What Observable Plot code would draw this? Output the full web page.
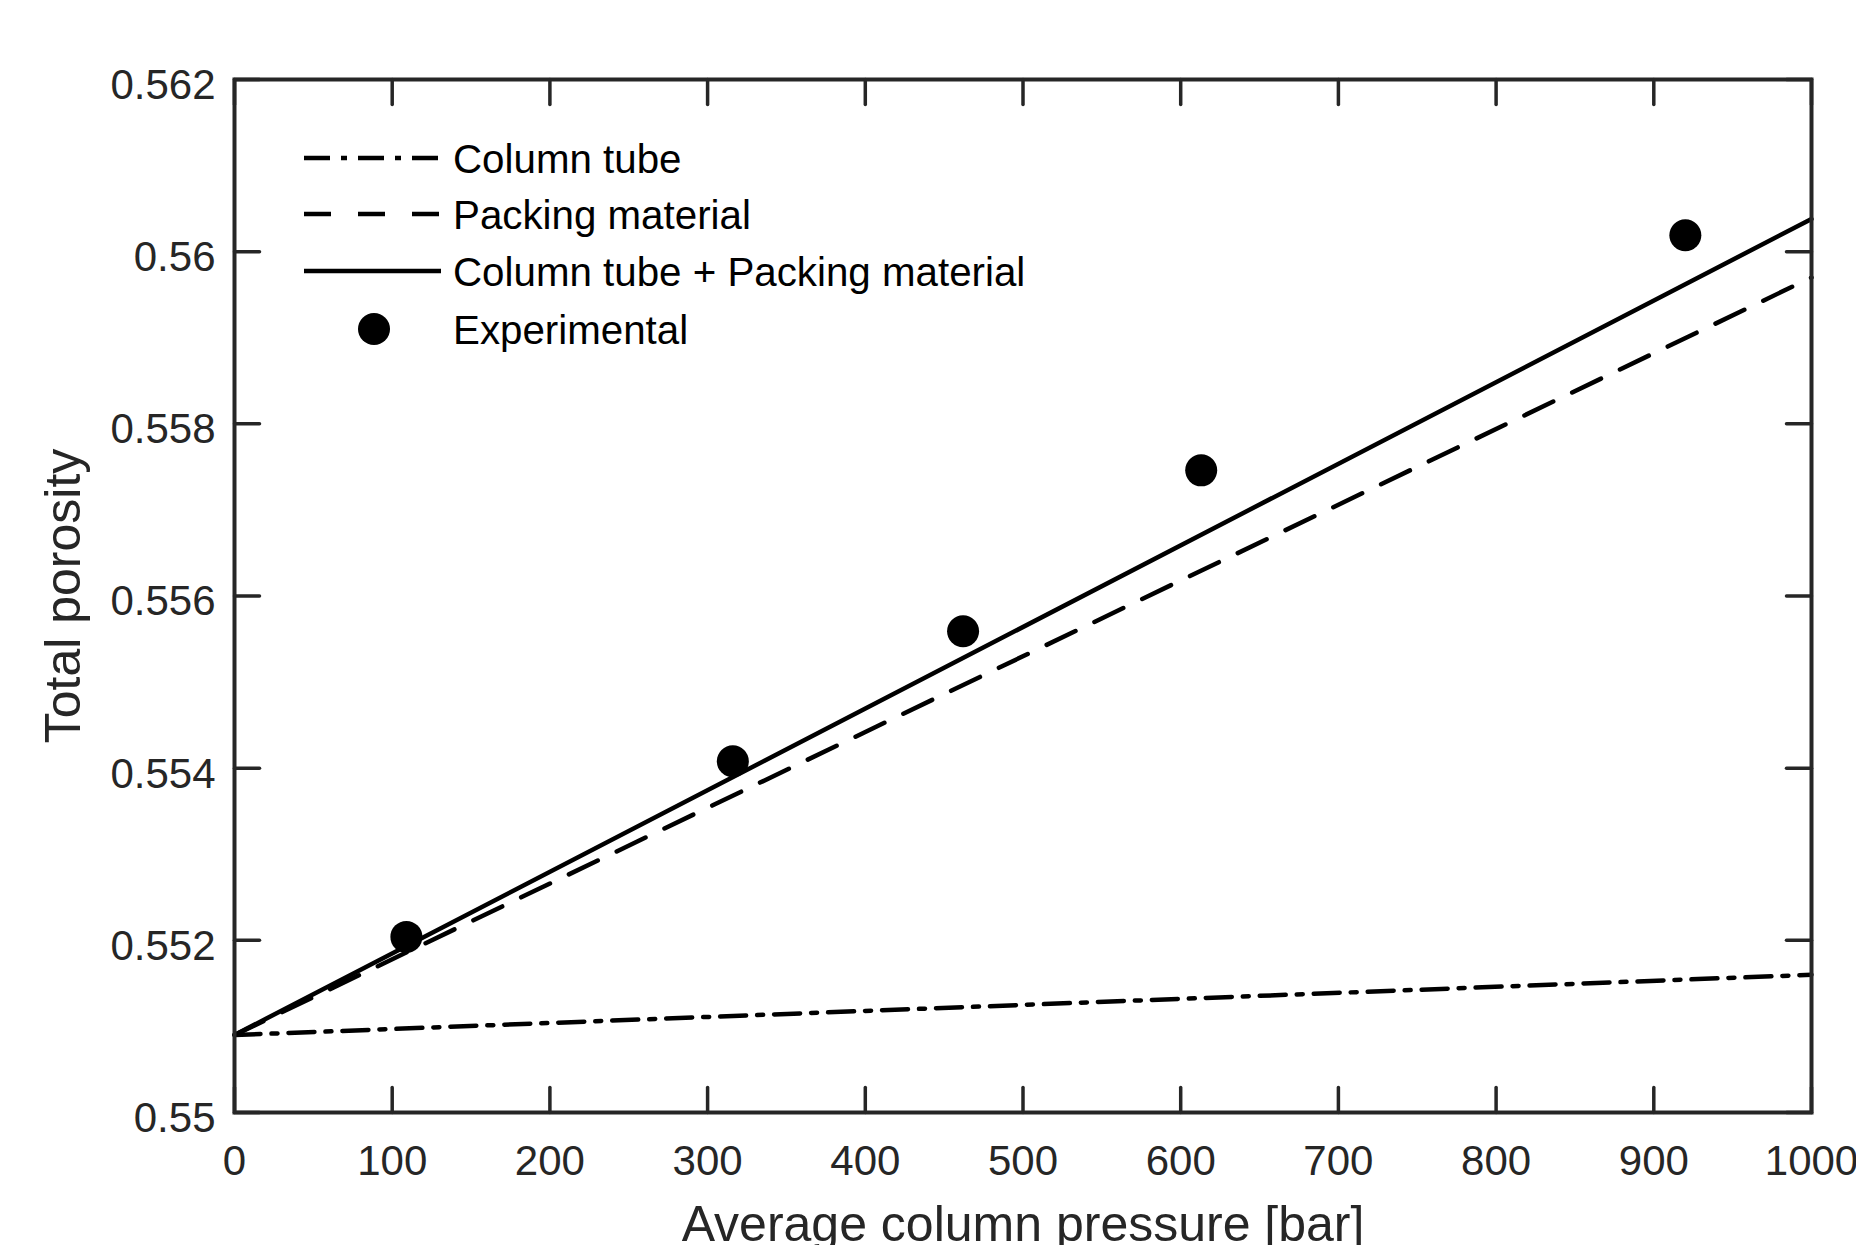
<!DOCTYPE html>
<html>
<head>
<meta charset="utf-8">
<script src="https://cdn.jsdelivr.net/npm/d3@7"></script>
<script src="https://cdn.jsdelivr.net/npm/@observablehq/plot@0.6"></script>
<style>
  html, body { margin: 0; padding: 0; background: #ffffff; }
  #chart svg { display: block; }
</style>
</head>
<body>
<div id="chart"></div>
<script>
// ---- data ----
const xTicks = [0, 100, 200, 300, 400, 500, 600, 700, 800, 900, 1000];
const yTicks = [0.55, 0.552, 0.554, 0.556, 0.558, 0.56, 0.562];
const modelPressure = [0, 1000];
const columnTube = [0.5509, 0.5516];
const packingMaterial = [0.5509, 0.5597];
const combined = [0.5509, 0.56038];
const expPressure = [109, 316, 462, 613, 920];
const expPorosity = [0.55204, 0.55408, 0.55559, 0.55746, 0.56019];
const legendLabels = ["Column tube", "Packing material", "Column tube + Packing material", "Experimental"];
const xLabel = "Average column pressure [bar]";
const yLabel = "Total porosity";

const ink = "#262626";
const font = "'Liberation Sans', Arial, Helvetica, sans-serif";

const tubeData = modelPressure.map((p, i) => ({p, v: columnTube[i]}));
const packData = modelPressure.map((p, i) => ({p, v: packingMaterial[i]}));
const combData = modelPressure.map((p, i) => ({p, v: combined[i]}));
const expData = expPressure.map((p, i) => ({p, v: expPorosity[i]}));

const tickShape = {draw(ctx, l) { ctx.moveTo(0, 0); ctx.lineTo(0, -l); }};
const tickLen = 25;
const tickStyle = {stroke: ink, strokeWidth: 3.5, length: tickLen, anchor: "start", shape: tickShape};

const chart = Plot.plot({
  width: 1856,
  height: 1245,
  marginLeft: 234,
  marginRight: 45,
  marginTop: 79,
  marginBottom: 133,
  style: {fontFamily: font, color: ink, background: "#ffffff", overflow: "visible"},
  x: {domain: [0, 1000]},
  y: {domain: [0.55, 0.562]},
  marks: [
    // model lines
    Plot.line(tubeData, {x: "p", y: "v", stroke: "#000", strokeWidth: 4.5, strokeDasharray: "26,11,6,11"}),
    Plot.line(packData, {x: "p", y: "v", stroke: "#000", strokeWidth: 4.5, strokeDasharray: "32,21"}),
    Plot.line(combData, {x: "p", y: "v", stroke: "#000", strokeWidth: 4.5}),
    Plot.dot(expData, {x: "p", y: "v", r: 16, fill: "#000", stroke: "none"}),
    // inward ticks on all four sides
    Plot.vector(xTicks, {x: d => d, frameAnchor: "bottom", rotate: 0, ...tickStyle}),
    Plot.vector(xTicks, {x: d => d, frameAnchor: "top", rotate: 180, ...tickStyle}),
    Plot.vector(yTicks, {y: d => d, frameAnchor: "left", rotate: 90, ...tickStyle}),
    Plot.vector(yTicks, {y: d => d, frameAnchor: "right", rotate: -90, ...tickStyle}),
    Plot.frame({stroke: ink, strokeWidth: 4}),
    // tick labels
    Plot.axisX(xTicks, {anchor: "bottom", tickSize: 0, tickPadding: 33, fontSize: 42, label: null, tickFormat: d => String(d), fill: ink}),
    Plot.axisY(yTicks, {anchor: "left", tickSize: 0, tickPadding: 19, fontSize: 42, label: null, tickFormat: d => String(d), dy: 6, fill: ink}),
    // axis titles
    Plot.text([xLabel], {text: d => d, frameAnchor: "bottom", textAnchor: "middle", lineAnchor: "middle", dy: 112, fontSize: 50, fill: ink}),
    Plot.text([yLabel], {text: d => d, frameAnchor: "left", textAnchor: "middle", lineAnchor: "middle", rotate: -90, dx: -171, fontSize: 50, fill: ink})
  ]
});

document.getElementById("chart").appendChild(chart);

// ---- legend (inside the axes, top-left) ----
const svg = d3.select(chart);
const leg = svg.append("g")
  .attr("font-family", font)
  .attr("font-size", 40.3)
  .attr("fill", "#000")
  .attr("text-anchor", "start");
const rowY = [158, 214, 271, 329];
const styles = [
  {dash: "26,11,6,11"},
  {dash: "27,27"},
  {dash: null},
  {dot: true}
];
legendLabels.forEach((label, i) => {
  const y = rowY[i];
  const s = styles[i];
  if (s.dot) {
    leg.append("circle").attr("cx", 374).attr("cy", y).attr("r", 16).attr("fill", "#000");
  } else {
    const ln = leg.append("line")
      .attr("x1", 304).attr("x2", 441).attr("y1", y).attr("y2", y)
      .attr("stroke", "#000").attr("stroke-width", 4.5);
    if (s.dash) ln.attr("stroke-dasharray", s.dash);
  }
  leg.append("text")
    .attr("x", 453).attr("y", y + 15)
    .attr("text-anchor", "start")
    .text(label);
});
</script>
</body>
</html>
